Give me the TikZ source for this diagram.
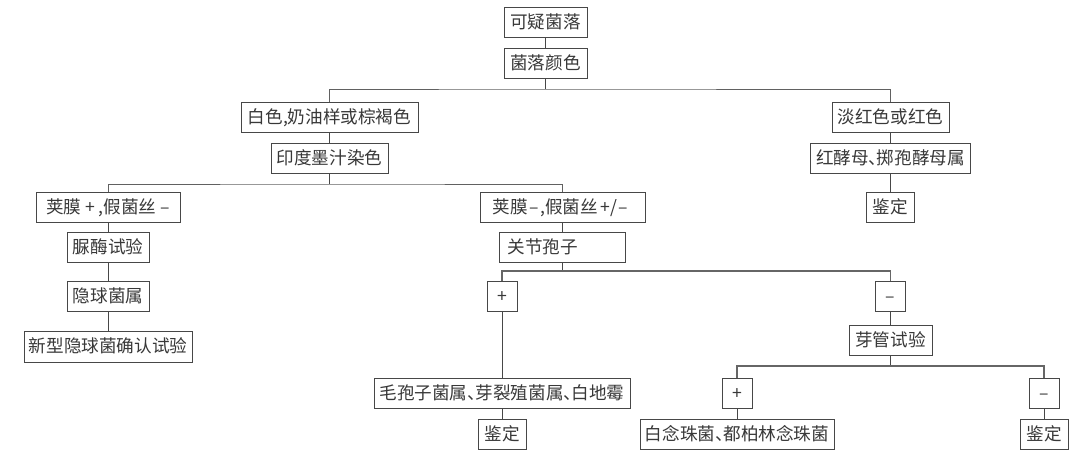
\documentclass[tikz,border=0pt]{standalone}
\usepackage{fontspec}
\setmainfont{Noto Sans CJK SC}[Scale=1]
\newcommand{\dun}{、\hspace{-9.5pt}}
\tikzset{
  box/.style={draw=black!72,line width=1pt,text=black!78,inner sep=0pt,outer sep=0pt,
    minimum height=30pt,font=\fontsize{17.6pt}{19pt}\selectfont,text height=14.2pt,text depth=1.8pt},
  leftbox/.style={box,align=left,inner xsep=8pt,text width=110pt},
  link/.style={draw=black!72,line width=1pt},
  bus/.style={draw=black!62,line width=1pt},
  heavybus/.style={draw=black!60,line width=1.4pt}
}
\begin{document}
\begin{tikzpicture}[x=1pt,y=-1pt]
\useasboundingbox[fill=white] (0,0) rectangle (1080,456);
% top
\node[box,minimum width=83pt] (keyi) at (545.5,22) {可疑菌落};
\node[box,minimum width=83pt] (yanse) at (545.5,63) {菌落颜色};
\node[box,minimum width=177pt] (bai) at (329.5,117) {白色,奶油样或棕褐色};
\node[box,minimum width=117pt] (yindu) at (329.5,158) {印度墨汁染色};
\node[box,minimum width=117pt] (dan) at (890.5,117) {淡红色或红色};
\node[box,minimum width=160pt] (hong) at (890.5,158) {红酵母\dun 掷孢酵母属};
\node[box,minimum width=48pt] (jd1) at (890.5,207) {鉴定};
% left branch
\node[box,minimum width=144pt] (jmA) at (108,207) {荚膜 + ,假菌丝 –};
\node[box,minimum width=82pt] (niao) at (108,247) {脲酶试验};
\node[box,minimum width=82pt] (yinqiu) at (108,296) {隐球菌属};
\node[box,minimum width=168pt,minimum height=31pt] (xinxing) at (108,346.5) {新型隐球菌确认试验};
% middle branch
\node[box,minimum width=165pt] (jmB) at (562.5,207) {\hspace{-4pt}荚膜\hspace{2pt}–\hspace{1pt},假菌丝\hspace{2pt}+\hspace{1pt}/\hspace{1pt}–};
\node[leftbox,minimum width=126pt] (guanjie) at (562.5,247) {关节孢子};
\node[box,minimum width=30pt] (plusA) at (502,296) {+};
\node[box,minimum width=256pt] (mao) at (502,393) {毛孢子菌属\dun 芽裂殖菌属\dun 白地霉};
\node[box,minimum width=48pt] (jd2) at (502,434) {鉴定};
\node[box,minimum width=30pt] (minusA) at (890.5,296) {–};
\node[box,minimum width=83pt] (yaguan) at (890.5,340) {芽管试验};
\node[box,minimum width=30pt] (plusB) at (737,393) {+};
\node[box,minimum width=194pt] (bainian) at (737,434) {白念珠菌\dun 都柏林念珠菌};
\node[box,minimum width=30pt] (minusB) at (1044,393) {–};
\node[box,minimum width=48pt] (jd3) at (1044,434) {鉴定};
% junctions
\coordinate (j1) at (545.5,89);
\coordinate (j2) at (329.5,184);
\coordinate (j3) at (562.5,271);
\coordinate (j4) at (890.5,366);
% connectors
\draw[link] (keyi) -- (yanse);
\draw[link] (yanse) -- (j1);
\draw[bus] (bai.north) |- (j1) -| (dan.north);
\draw[link] (bai) -- (yindu);
\draw[link] (dan) -- (hong);
\draw[link] (hong) -- (jd1);
\draw[link] (yindu) -- (j2);
\draw[bus] (jmA.north) |- (j2) -| (jmB.north);
\draw[link] (jmA) -- (niao);
\draw[link] (niao) -- (yinqiu);
\draw[link] (yinqiu) -- (xinxing);
\draw[link] (jmB) -- (guanjie);
\draw[link] (guanjie.south) -- (j3);
\draw[heavybus] (plusA.north) |- (j3) -| (minusA.north);
\draw[link] (plusA) -- (mao);
\draw[link] (mao) -- (jd2);
\draw[link] (minusA) -- (yaguan);
\draw[link] (yaguan) -- (j4);
\draw[heavybus] (plusB.north) |- (j4) -| (minusB.north);
\draw[link] (plusB) -- (bainian);
\draw[link] (minusB) -- (jd3);
\end{tikzpicture}
\end{document}
